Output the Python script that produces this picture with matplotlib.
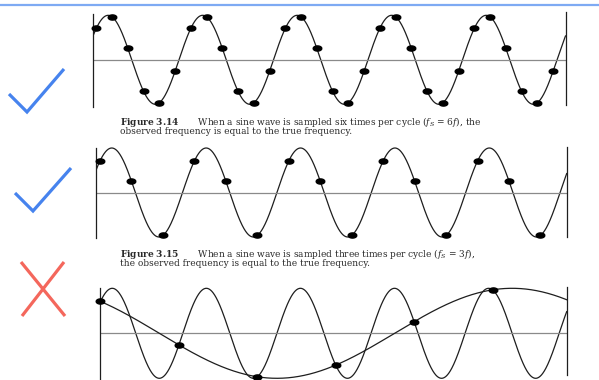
import numpy as np
import matplotlib.pyplot as plt
from matplotlib.path import Path

plt.rcParams["mathtext.fontset"] = "dejavuserif"

# ======================================================
# DATA
# ======================================================

# time is measured in cycles of the true sine wave (peak at t = 0)
sample_rate = [6, 3, 1.2]                 # samples per cycle (fs / f)
first_sample = [1 / 24, 5 / 24, 4 + 1 / 24]  # one sampling instant of each panel
t_start = [-0.16, -0.17, -0.13]
t_end = [4.84, 4.82, 4.83]

# top / bottom of the left and right frame lines, in wave amplitudes
frame_left = [(1.03, -1.06), (1.00, -1.02), (1.00, -1.12)]
frame_right = [(1.07, -1.02), (1.03, -0.99), (1.03, -0.93)]

fig_label = ["Figure\\ 3.14", "Figure\\ 3.15"]
caption_1 = [r"When a sine wave is sampled six times per cycle ($f_S$ = 6$f$), the",
             "observed frequency is equal to the true frequency."]
caption_2 = [r"When a sine wave is sampled three times per cycle ($f_S$ = 3$f$),",
             "the observed frequency is equal to the true frequency."]

check_1 = [(9, 94), (27, 112), (64, 69)]
check_2 = [(15, 193), (33, 211), (71, 168)]
cross_a = [(21, 262), (65, 316)]
cross_b = [(64, 262), (22, 316)]

# ======================================================
# LAYOUT (pixels)
# ======================================================

W, H = 599, 380

# left, right, zero line, amplitude
panel_px = [
    (93, 565.5, 59.8, 44.5),
    (95.7, 566.7, 192.5, 44.5),
    (100, 566.7, 333.3, 45.0),
]

INK = "#1e1e1e"
BLUE = "#4683ee"
RED = "#f4675c"

theta = np.linspace(0, 2 * np.pi, 40)
dot = Path(np.column_stack([np.cos(theta), 0.6 * np.sin(theta)]))

fig = plt.figure(figsize=(W / 100, H / 100), dpi=100)

# ======================================================
# DECORATIONS + CAPTIONS
# ======================================================

deco = fig.add_axes([0, 0, 1, 1])
deco.set_xlim(0, W)
deco.set_ylim(H, 0)
deco.axis("off")

deco.axhline(5, color="#7eaaf3", lw=1.6)

for mark in (check_1, check_2):
    xs, ys = zip(*mark)
    deco.plot(xs, ys, color=BLUE, lw=2.3, solid_joinstyle="miter",
              solid_capstyle="butt")

for stroke in (cross_a, cross_b):
    xs, ys = zip(*stroke)
    deco.plot(xs, ys, color=RED, lw=2.3, solid_capstyle="butt")

cap_style = dict(family="DejaVu Serif", size=6.5, color="#2a2a2a",
                 va="top", linespacing=0.72)

gap = " " * 7
deco.text(120.5, 115,
          "$\\mathbf{" + fig_label[0] + "}$" + gap + caption_1[0] + "\n" + caption_1[1],
          **cap_style)
deco.text(119.5, 247,
          "$\\mathbf{" + fig_label[1] + "}$" + gap + caption_2[0] + "\n" + caption_2[1],
          **cap_style)

# ======================================================
# SINE PANELS
# ======================================================

for i, (left, right, zero, amp) in enumerate(panel_px):

    y_lim = 1.2
    ax = fig.add_axes([
        left / W,
        1 - (zero + y_lim * amp) / H,
        (right - left) / W,
        2 * y_lim * amp / H,
    ])
    ax.set_xlim(t_start[i], t_end[i])
    ax.set_ylim(-y_lim, y_lim)
    ax.axis("off")

    t = np.linspace(t_start[i], t_end[i], 1500)
    ax.plot(t, np.cos(2 * np.pi * t), color=INK, lw=0.9)

    ax.axhline(0, color="#8a8a8a", lw=0.9)
    ax.plot([t_start[i]] * 2, frame_left[i], color=INK, lw=0.9, clip_on=False)
    ax.plot([t_end[i]] * 2, frame_right[i], color=INK, lw=0.9, clip_on=False)

    fs = sample_rate[i]
    k0 = np.ceil((t_start[i] - first_sample[i]) * fs)
    k1 = np.floor((t_end[i] - first_sample[i]) * fs)
    ts = first_sample[i] + np.arange(k0, k1 + 1) / fs

    if fs < 2:
        # under-sampled: the samples trace a slow alias wave
        alias = np.cos(2 * np.pi * ((1 - fs) * t + fs * first_sample[i]))
        ax.plot(t, alias, color=INK, lw=0.9)

    ax.plot(ts, np.cos(2 * np.pi * ts), linestyle="none", marker=dot,
            markersize=6.2, color="black", clip_on=False, zorder=5)

plt.savefig("out.png", dpi=100)
